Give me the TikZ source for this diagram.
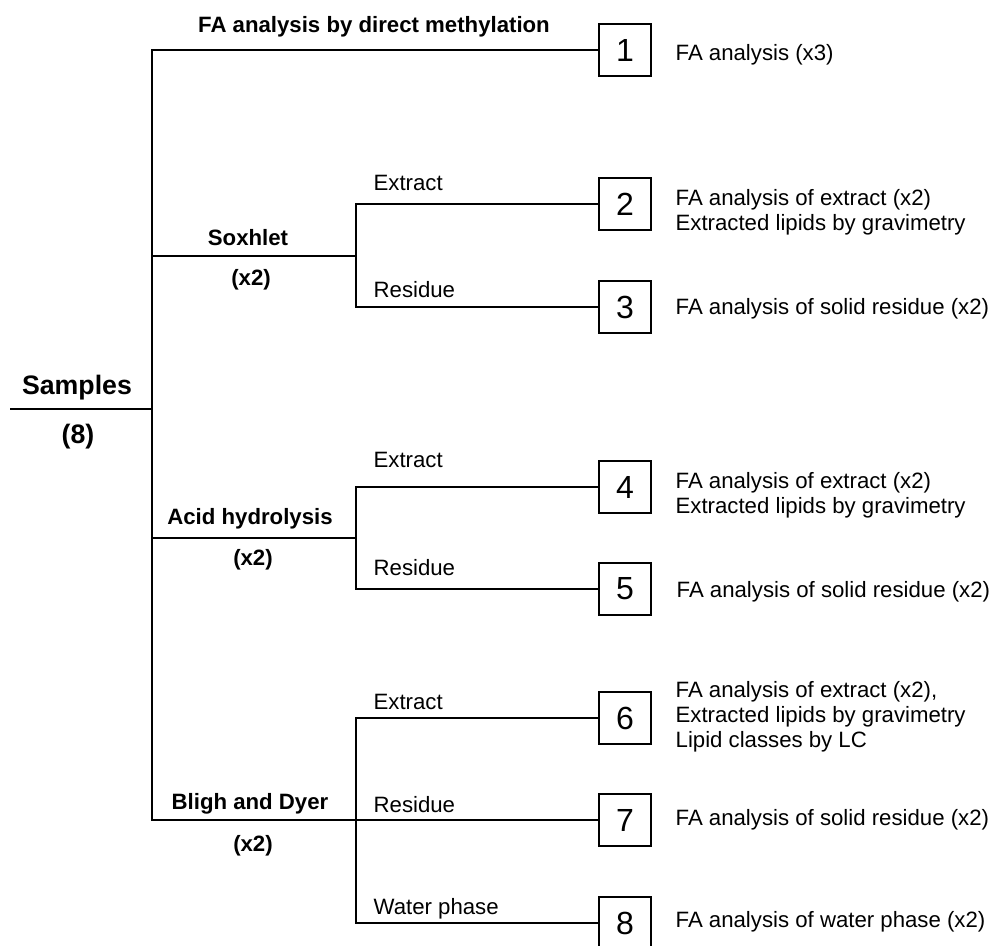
\documentclass[tikz,border=0pt]{standalone}
\usepackage{fontspec}
\setmainfont{Liberation Sans}
\begin{document}
\begin{tikzpicture}[x=1pt,y=-1pt, line width=1.3pt,
  numbox/.style={draw, minimum size=52pt, inner sep=0pt, font=\fontsize{32}{36}\selectfont},
  lbl/.style={inner sep=0pt, font=\fontsize{22.2}{25}\selectfont},
  blbl/.style={inner sep=0pt, font=\fontsize{22.2}{25}\selectfont\bfseries},
  big/.style={inner sep=0pt, font=\fontsize{26.7}{30}\selectfont\bfseries},
  res/.style={inner sep=0pt, font=\fontsize{22.2}{25}\selectfont}]
\useasboundingbox (0,0) rectangle (995,945);

% top branch
\node[blbl, anchor=base] (title) at (374,32) {FA analysis by direct methylation};
\node[numbox] (b1) at (625,50) {1};
\node[lbl, anchor=base west] (t1) at (675,60) {FA analysis (x3)};

% samples
\node[big, anchor=base] (samp) at (77,394) {Samples};
\node[big, anchor=base] (n8) at (78,443) {(8)};
\coordinate (sL) at (10,409);
\coordinate (sJ) at (152,409);

% Soxhlet
\node[blbl, anchor=base] (sox) at (248,245) {Soxhlet};
\node[blbl, anchor=base] (soxn) at (251,285) {(x2)};
\coordinate (soxJ) at (152,256);
\coordinate (soxK) at (356,256);
\coordinate (soxB) at (356,307);
\node[lbl, anchor=base west] (soxE) at (373,190) {Extract};
\node[lbl, anchor=base west] (soxR) at (373,297) {Residue};
\node[numbox] (b2) at (625,204) {2};
\node[numbox] (b3) at (625,307) {3};
\node[res, anchor=base west] (t2) at (675,205) {\begin{tabular}[t]{@{}l@{}}FA analysis of extract (x2)\\Extracted lipids by gravimetry\end{tabular}};
\node[lbl, anchor=base west] (t3) at (675,314) {FA analysis of solid residue (x2)};

% Acid hydrolysis
\node[blbl, anchor=base] (acid) at (250,524) {Acid hydrolysis};
\node[blbl, anchor=base] (acidn) at (253,565) {(x2)};
\coordinate (acidJ) at (152,538);
\coordinate (acidK) at (356,538);
\coordinate (acidB) at (356,589);
\node[lbl, anchor=base west] (acidE) at (373,467) {Extract};
\node[lbl, anchor=base west] (acidR) at (373,575) {Residue};
\node[numbox] (b4) at (625,487) {4};
\node[numbox] (b5) at (625,589) {5};
\node[res, anchor=base west] (t4) at (675,488) {\begin{tabular}[t]{@{}l@{}}FA analysis of extract (x2)\\Extracted lipids by gravimetry\end{tabular}};
\node[lbl, anchor=base west] (t5) at (676,597) {FA analysis of solid residue (x2)};

% Bligh and Dyer
\node[blbl, anchor=base] (bligh) at (250,809) {Bligh and Dyer};
\node[blbl, anchor=base] (blighn) at (253,851) {(x2)};
\coordinate (jB) at (152,820);
\coordinate (wB) at (356,923);
\node[lbl, anchor=base west] (blE) at (373,709) {Extract};
\node[lbl, anchor=base west] (blR) at (373,812) {Residue};
\node[lbl, anchor=base west] (blW) at (373,914) {Water phase};
\node[numbox] (b6) at (625,718) {6};
\node[numbox] (b7) at (625,820) {7};
\node[numbox] (b8) at (625,923) {8};
\node[res, anchor=base west] (t6) at (675,697) {\begin{tabular}[t]{@{}l@{}}FA analysis of extract (x2),\\Extracted lipids by gravimetry\\Lipid classes by LC\end{tabular}};
\node[lbl, anchor=base west] (t7) at (675,825) {FA analysis of solid residue (x2)};
\node[lbl, anchor=base west] (t8) at (675,927) {FA analysis of water phase (x2)};

% connectors
\draw (b1.west) -| (jB) -- (b7.west);
\draw (sL) -- (sJ);
\draw (soxJ) -- (soxK);
\draw (b2.west) -| (soxB) -- (b3.west);
\draw (acidJ) -- (acidK);
\draw (b4.west) -| (acidB) -- (b5.west);
\draw (b6.west) -| (wB) -- (b8.west);
\end{tikzpicture}
\end{document}
